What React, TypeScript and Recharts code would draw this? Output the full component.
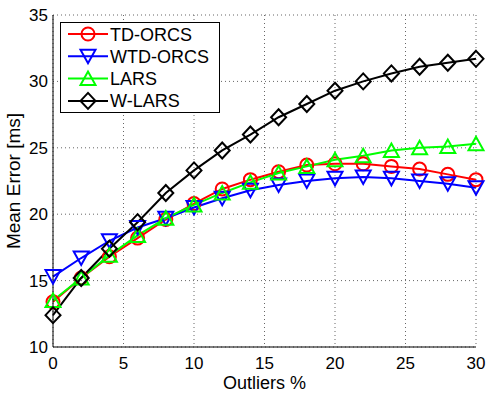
import { LineChart, Line, XAxis, YAxis, CartesianGrid, Legend } from 'recharts';

const outliers = [0, 2, 4, 6, 8, 10, 12, 14, 16, 18, 20, 22, 24, 26, 28, 30];
const tdOrcs = [13.4, 15.2, 16.8, 18.2, 19.6, 20.8, 21.9, 22.6, 23.2, 23.7, 23.8, 23.8, 23.6, 23.4, 23.0, 22.6];
const wtdOrcs = [15.3, 16.7, 18.0, 19.0, 19.7, 20.5, 21.2, 21.8, 22.2, 22.5, 22.7, 22.8, 22.7, 22.5, 22.3, 22.0];
const lars = [13.5, 15.2, 16.9, 18.4, 19.7, 20.7, 21.6, 22.4, 23.1, 23.6, 24.1, 24.4, 24.8, 25.0, 25.1, 25.3];
const wLars = [12.4, 15.2, 17.4, 19.4, 21.6, 23.3, 24.8, 26.0, 27.3, 28.3, 29.3, 30.0, 30.6, 31.1, 31.4, 31.7];

const xTicks = [0, 5, 10, 15, 20, 25, 30];
const yTicks = [10, 15, 20, 25, 30, 35];

const series = [
  { key: 'td', name: 'TD-ORCS', color: '#ff0000', marker: 'circle' },
  { key: 'wtd', name: 'WTD-ORCS', color: '#0000ff', marker: 'down' },
  { key: 'lars', name: 'LARS', color: '#00ff00', marker: 'up' },
  { key: 'wlars', name: 'W-LARS', color: '#000000', marker: 'diamond' },
];

const data = outliers.map((x, i) => ({
  x,
  td: tdOrcs[i],
  wtd: wtdOrcs[i],
  lars: lars[i],
  wlars: wLars[i],
}));

const FONT = '"Liberation Sans", Arial, sans-serif';

function Marker({ cx, cy, type, color }: { cx: number; cy: number; type: string; color: string }) {
  const common = { fill: 'none', stroke: color, strokeWidth: 2 };
  if (type === 'circle') return <circle cx={cx} cy={cy} r={6.5} {...common} />;
  if (type === 'down')
    return <polygon points={`${cx - 7.5},${cy - 6.5} ${cx + 7.5},${cy - 6.5} ${cx},${cy + 7}`} {...common} />;
  if (type === 'up')
    return <polygon points={`${cx - 7.5},${cy + 6.5} ${cx + 7.5},${cy + 6.5} ${cx},${cy - 7}`} {...common} />;
  return <polygon points={`${cx},${cy - 8} ${cx + 7.5},${cy} ${cx},${cy + 8} ${cx - 7.5},${cy}`} {...common} />;
}

function LegendBox() {
  return (
    <div style={{ width: 158, height: 89, border: '1px solid #000', background: '#fff' }}>
      <svg width={158} height={89}>
        {series.map((s, i) => {
          const y = 11 + i * 22.3;
          return (
            <g key={s.key}>
              <line x1={7} x2={47} y1={y} y2={y} stroke={s.color} strokeWidth={2} />
              <Marker cx={27} cy={y} type={s.marker} color={s.color} />
              <text x={49} y={y + 6.5} fontFamily={FONT} fontSize={18} fill="#000">{s.name}</text>
            </g>
          );
        })}
      </svg>
    </div>
  );
}

export default function App() {
  return (
    <div style={{ position: 'absolute', left: 0, top: 0, width: 498, height: 393, background: '#fff' }}>
      <LineChart width={498} height={393} data={data} margin={{ top: 15, right: 22, bottom: 16, left: 0 }}>
        <CartesianGrid stroke="#666" strokeDasharray="1 3" strokeWidth={1} />
        <XAxis
          dataKey="x"
          type="number"
          domain={[0, 30]}
          ticks={xTicks}
          height={30}
          tickLine={false}
          axisLine={{ stroke: '#000', strokeWidth: 1 }}
          tick={{ fill: '#000', fontSize: 17, fontFamily: FONT }}
          tickMargin={4}
          label={{ value: 'Outliers %', position: 'insideBottom', offset: -12, fill: '#000', fontSize: 18, fontFamily: FONT }}
        />
        <YAxis
          type="number"
          domain={[10, 35]}
          ticks={yTicks}
          width={53}
          tickLine={false}
          tickSize={5}
          axisLine={{ stroke: '#000', strokeWidth: 1 }}
          tick={{ fill: '#000', fontSize: 17, fontFamily: FONT }}
          tickMargin={0}
          label={{ value: 'Mean Error [ms]', angle: -90, position: 'center', dx: -13, fill: '#000', fontSize: 19, fontFamily: FONT }}
        />
        <Legend
          layout="vertical"
          align="center"
          verticalAlign="middle"
          wrapperStyle={{ position: 'absolute', left: 60, top: 22, width: 160, height: 91 }}
          content={() => <LegendBox />}
        />
        {series.map((s) => (
          <Line
            key={s.key}
            dataKey={s.key}
            name={s.name}
            type="linear"
            stroke={s.color}
            strokeWidth={2}
            isAnimationActive={false}
            dot={(p: any) => <Marker key={`${s.key}-${p.index}`} cx={p.cx} cy={p.cy} type={s.marker} color={s.color} />}
            activeDot={false}
          />
        ))}
      </LineChart>
    </div>
  );
}
